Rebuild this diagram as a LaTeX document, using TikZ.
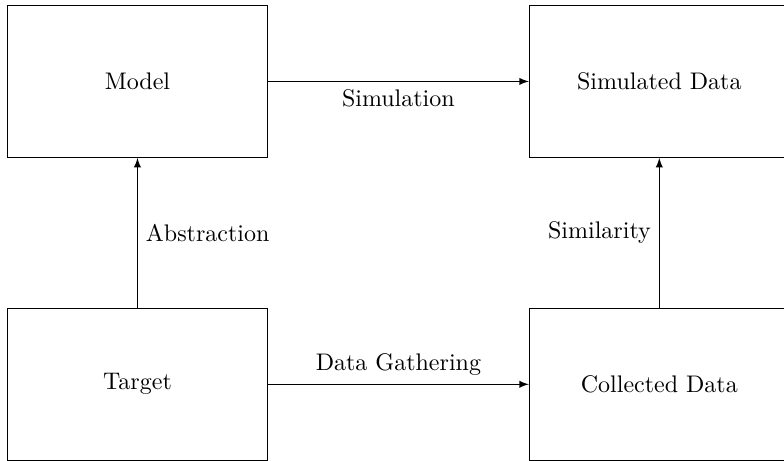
\documentclass[tikz,border=0pt]{standalone}
\usetikzlibrary{positioning, arrows}

\begin{document}
\begin{tikzpicture}[
    ->,
    >=latex,
    node distance=62.5pt and 108.75pt, % gaps between the boxes
    block/.style={rectangle, draw, minimum width=108.3pt, minimum height=63.3pt}
  ]

  % --- FRAME (boxes on the right and bottom run past the edge) ---
  \useasboundingbox (-2.92pt,2.08pt) rectangle (323.75pt,-189.6pt);

  % --- BOXES ---
  \node[block, anchor=north west] (model) at (0,0) {Model};
  \node[block, right=of model] (simdata) {Simulated Data};
  \node[block, below=of model] (target) {Target};
  \node[block, below=of simdata] (coldata) {Collected Data};

  % --- ARROWS ---
  \draw (model) -- node[below] {Simulation} (simdata);
  \draw (target) -- node[right] {Abstraction} (model);
  \draw (target) -- node[above] {Data Gathering} (coldata);
  \draw (coldata) -- node[left] {Similarity} (simdata);

\end{tikzpicture}
\end{document}
